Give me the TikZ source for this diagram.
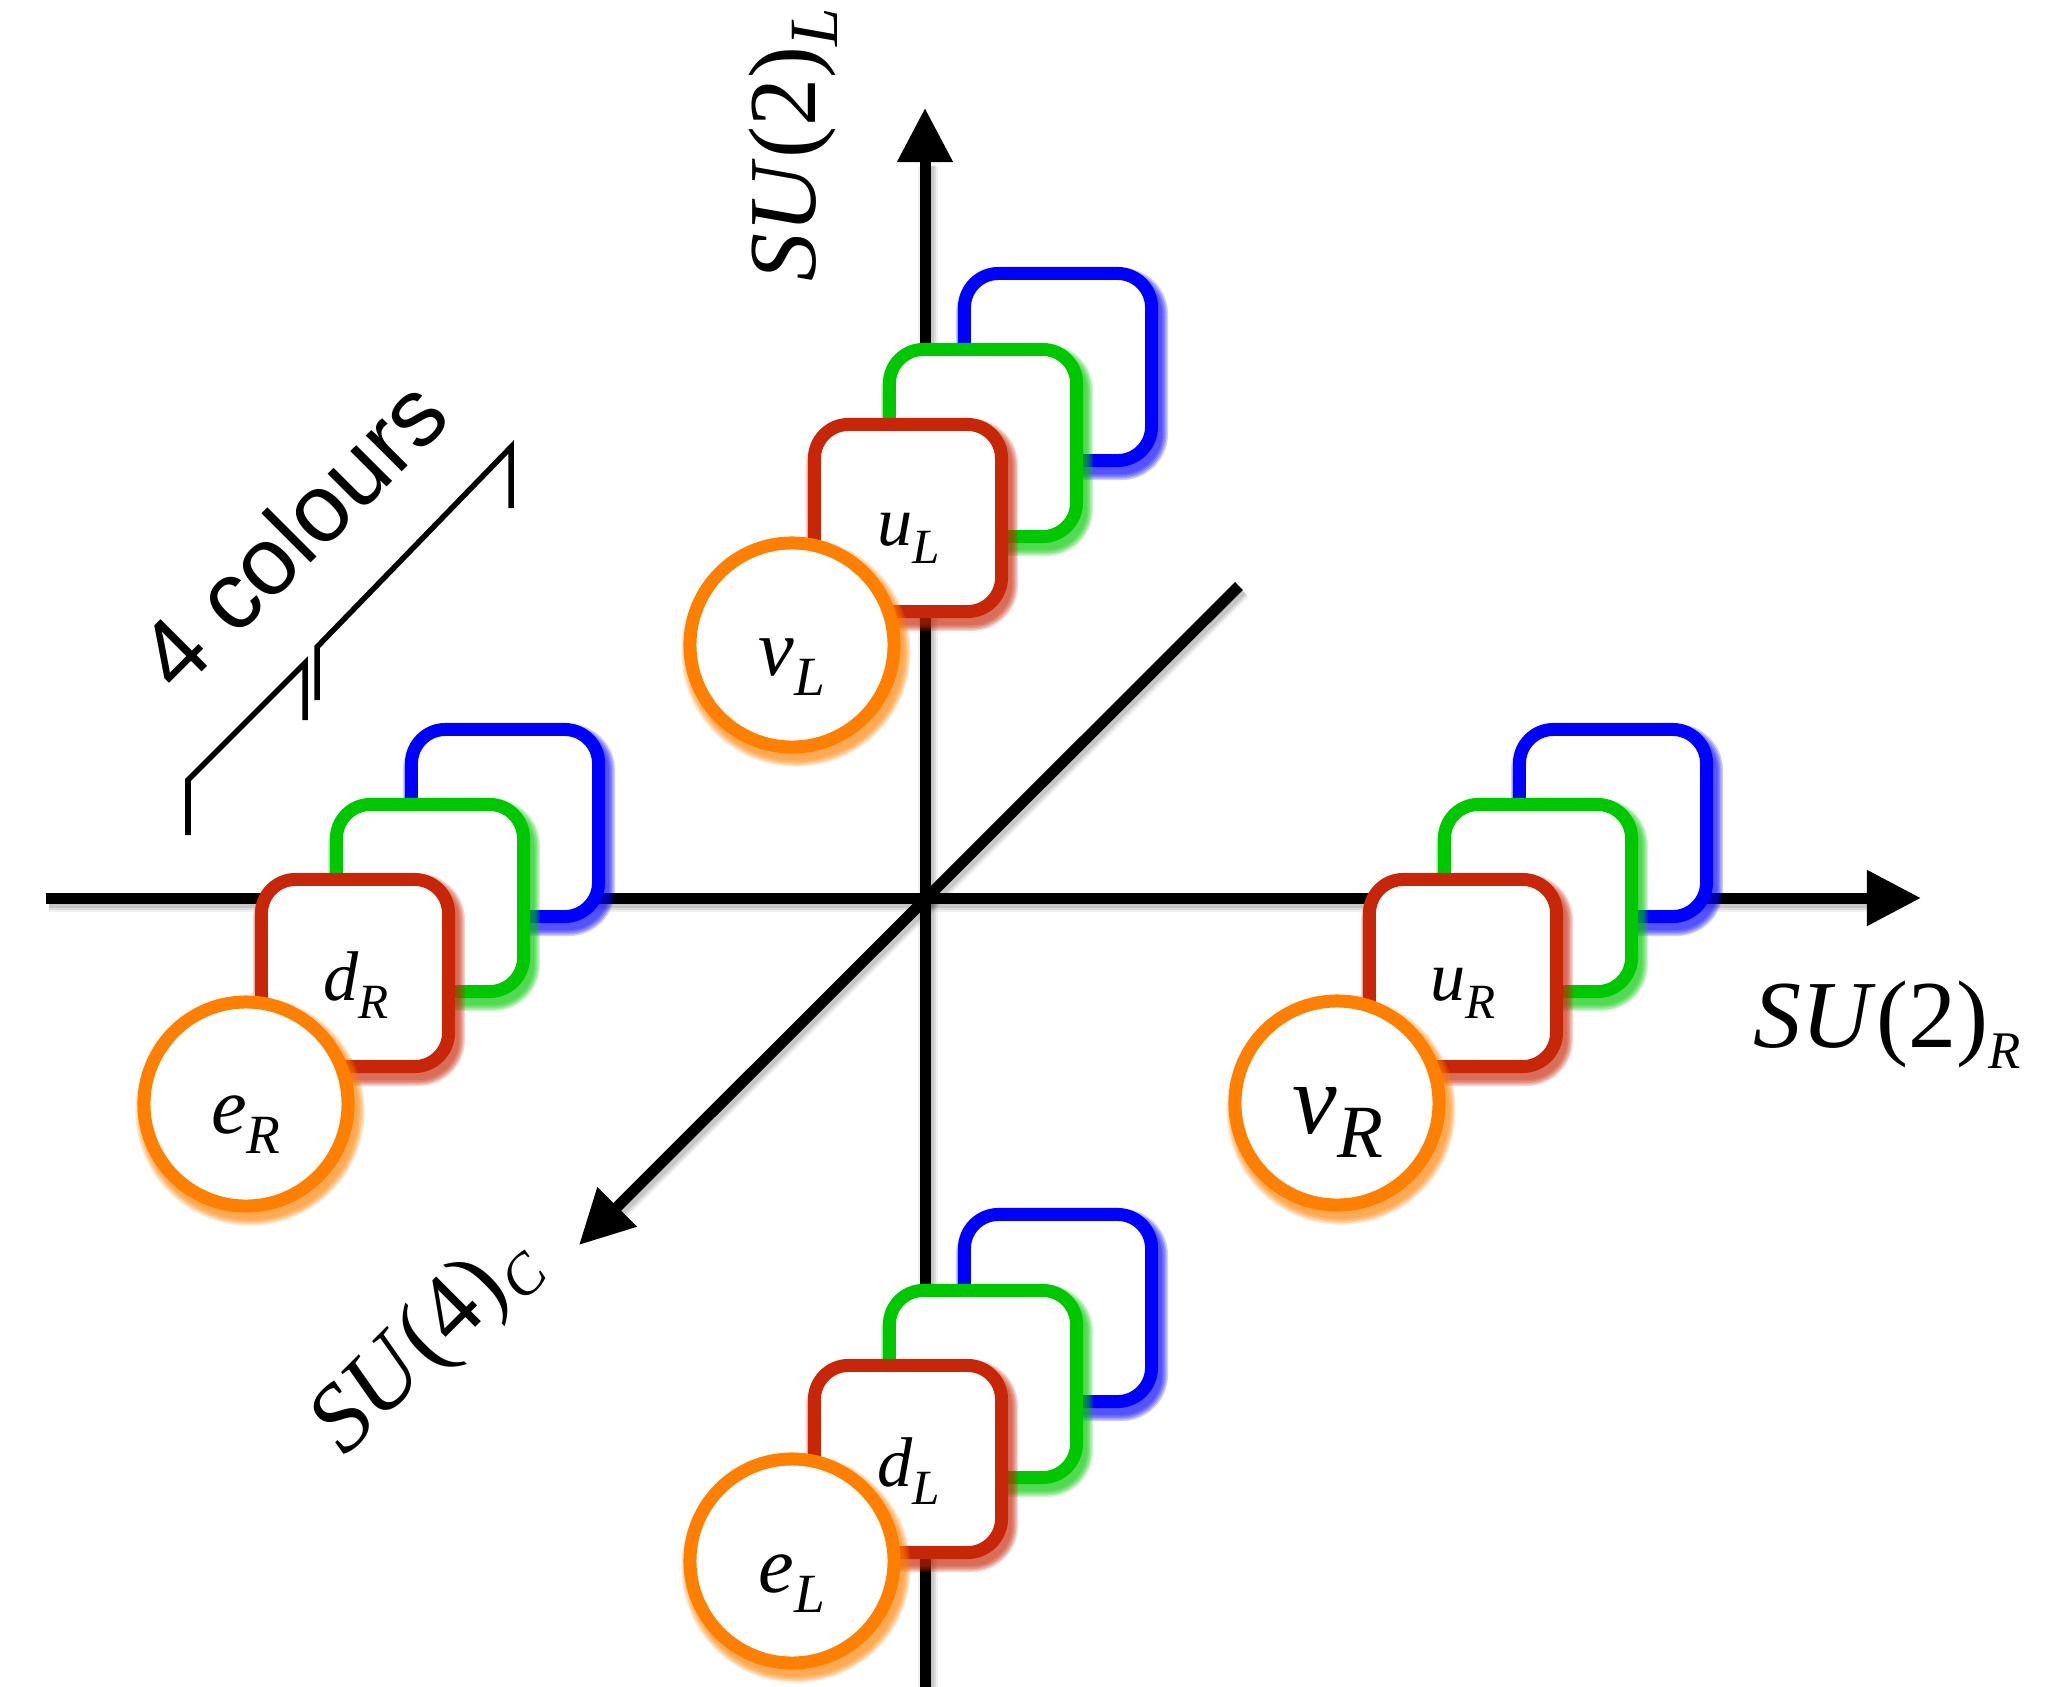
\documentclass[tikz,border=0pt]{standalone}
\usepackage{fontspec}
\setmainfont{Liberation Serif}
\newfontfamily\labelsans{Liberation Sans}
\usepackage{graphicx}
\usetikzlibrary{arrows.meta,calc}

\definecolor{qblue}{RGB}{0,0,255}
\definecolor{qgreen}{RGB}{0,200,0}
\definecolor{qred}{RGB}{200,38,8}
\definecolor{qorange}{RGB}{255,128,0}

% lowered, scaled italic index: scale, drop, text
\newcommand\idx[3]{\raisebox{-#2}{\scalebox{#1}{\itshape #3}}}

\begin{document}
\begin{tikzpicture}[x=0.01cm, y=-0.01cm,
  glow/.style={
    preaction={draw=#1, draw opacity=0.2, line width=0.13cm, transform canvas={shift={(4,7)}}},
    preaction={draw=#1, draw opacity=0.2, line width=0.16cm, transform canvas={shift={(4,7)}}},
    preaction={draw=#1, draw opacity=0.2, line width=0.19cm, transform canvas={shift={(4,7)}}},
    preaction={draw=#1, draw opacity=0.2, line width=0.22cm, transform canvas={shift={(4,7)}}},
    preaction={draw=#1, draw opacity=0.2, line width=0.25cm, transform canvas={shift={(4,7)}}}},
  qbox/.style={draw=#1, fill=white, line width=0.13cm, rounded corners=0.34cm,
    minimum size=1.87cm, inner sep=0pt, outer sep=0pt, glow=#1},
  lepton/.style={circle, draw=qorange, fill=white, line width=0.13cm,
    minimum size=2.04cm, inner sep=0pt, outer sep=0pt, glow=qorange},
  axshade/.style={
    preaction={draw=black, draw opacity=0.10, line width=0.11cm, transform canvas={shift={(3,4)}}},
    preaction={draw=black, draw opacity=0.08, line width=0.15cm, transform canvas={shift={(3,4)}}},
    preaction={draw=black, draw opacity=0.06, line width=0.19cm, transform canvas={shift={(3,4)}}}},
  axis/.style={draw=black, line width=0.11cm, -{Triangle[length=0.54cm, width=0.53cm]}},
  bracket/.style={draw=black, line width=0.055cm},
  fieldtext/.style={font=\fontsize{20}{24}\selectfont, inner sep=0pt, anchor=base},
  leptext/.style={font=\fontsize{22.8}{26}\selectfont, inner sep=0pt, anchor=base},
  grouptext/.style={font=\fontsize{27.3}{32}\selectfont, inner sep=0pt, anchor=base west},
]
\useasboundingbox (0,0) rectangle (2056,1687);

% ---------- axes ----------
\coordinate (hL) at (46,898);
\coordinate (hR) at (1921,898);
\coordinate (vB) at (925,1700);
\coordinate (vT) at (925,108);
\coordinate (dNE) at (1239,586);
\coordinate (dSW) at (579,1245);

\path[axshade] (hL) -- ($(hR)+(-54,0)$);
\path[axshade] (vB) -- ($(vT)+(0,54)$);
\path[axshade] (dNE) -- ($(dSW)!0.54cm!(dNE)$);

\draw[axis] (hL) -- (hR);
\draw[axis] (vB) -- (vT);
\draw[axis] (dNE) -- (dSW);

% ---------- left-handed up-type multiplet ----------
\node[qbox=qblue]  (uL3) at (1058,367) {};
\node[qbox=qgreen] (uL2) at (983,443) {};
\node[qbox=qred]   (uL1) at (908,518) {};
\node[lepton]      (nuL) at (792,645) {};
\node[fieldtext] (uLt) at ([shift={(1,27)}]uL1.center) {\textit{u}\idx{0.7}{0.26em}{L}};
\node[leptext] (nuLt) at ([shift={(0,30)}]nuL.center) {\textit{ν}\idx{0.69}{0.25em}{L}};

% ---------- left-handed down-type multiplet ----------
\node[qbox=qblue]  (dL3) at (1058,1308) {};
\node[qbox=qgreen] (dL2) at (983,1384) {};
\node[qbox=qred]   (dL1) at (908,1459) {};
\node[lepton]      (eL) at (792,1561) {};
\node[fieldtext] (dLt) at ([shift={(1,27)}]dL1.center) {\textit{d}\idx{0.7}{0.26em}{L}};
\node[leptext] (eLt) at ([shift={(0,31)}]eL.center) {\textit{e}\idx{0.69}{0.25em}{L}};

% ---------- right-handed down-type multiplet ----------
\node[qbox=qblue]  (dR3) at (505,823) {};
\node[qbox=qgreen] (dR2) at (430,898) {};
\node[qbox=qred]   (dR1) at (355,973) {};
\node[lepton]      (eR) at (246,1104) {};
\node[fieldtext] (dRt) at ([shift={(1,27)}]dR1.center) {\textit{d}\idx{0.7}{0.26em}{R}};
\node[leptext] (eRt) at ([shift={(0,29)}]eR.center) {\textit{e}\idx{0.69}{0.25em}{R}};

% ---------- right-handed up-type multiplet ----------
\node[qbox=qblue]  (uR3) at (1613,823) {};
\node[qbox=qgreen] (uR2) at (1538,898) {};
\node[qbox=qred]   (uR1) at (1463,973) {};
\node[lepton]      (nuR) at (1337,1103) {};
\node[fieldtext] (uRt) at ([shift={(0,27)}]uR1.center) {\textit{u}\idx{0.7}{0.26em}{R}};
\node[leptext, font=\fontsize{28.5}{32}\selectfont] (nuRt) at ([shift={(1,30)}]nuR.center) {\textit{ν}\idx{0.75}{0.245em}{R}};

% ---------- group labels ----------
\node[grouptext, rotate=90] (SU2L) at (815,282) {\textit{SU}(2)\idx{0.72}{0.23em}{L}};
\node[grouptext] (SU2R) at (1753,1047) {\textit{SU}(2)\idx{0.55}{0.22em}{R}};
\node[grouptext, rotate=45] (SU4C) at (345,1458) {\textit{SU}(4)\idx{0.6}{0.18em}{C}};

% ---------- colour dimension bracket ----------
\coordinate (b1) at (188,835);
\coordinate (b2) at (188,780);
\coordinate (b3) at (305,663);
\coordinate (b4) at (305,720);
\coordinate (b5) at (317,700);
\coordinate (b6) at (317,647);
\coordinate (b7) at (511,447);
\coordinate (b8) at (511,508);
\draw[bracket] (b1) -- (b2) -- (b3) -- (b4);
\draw[bracket] (b5) -- (b6) -- (b7) -- (b8);
\node[font=\labelsans\fontsize{27.3}{32}\selectfont, rotate=45, anchor=base west, inner sep=0pt]
  (ncol) at (178,696) {4 colours};
\end{tikzpicture}
\end{document}
